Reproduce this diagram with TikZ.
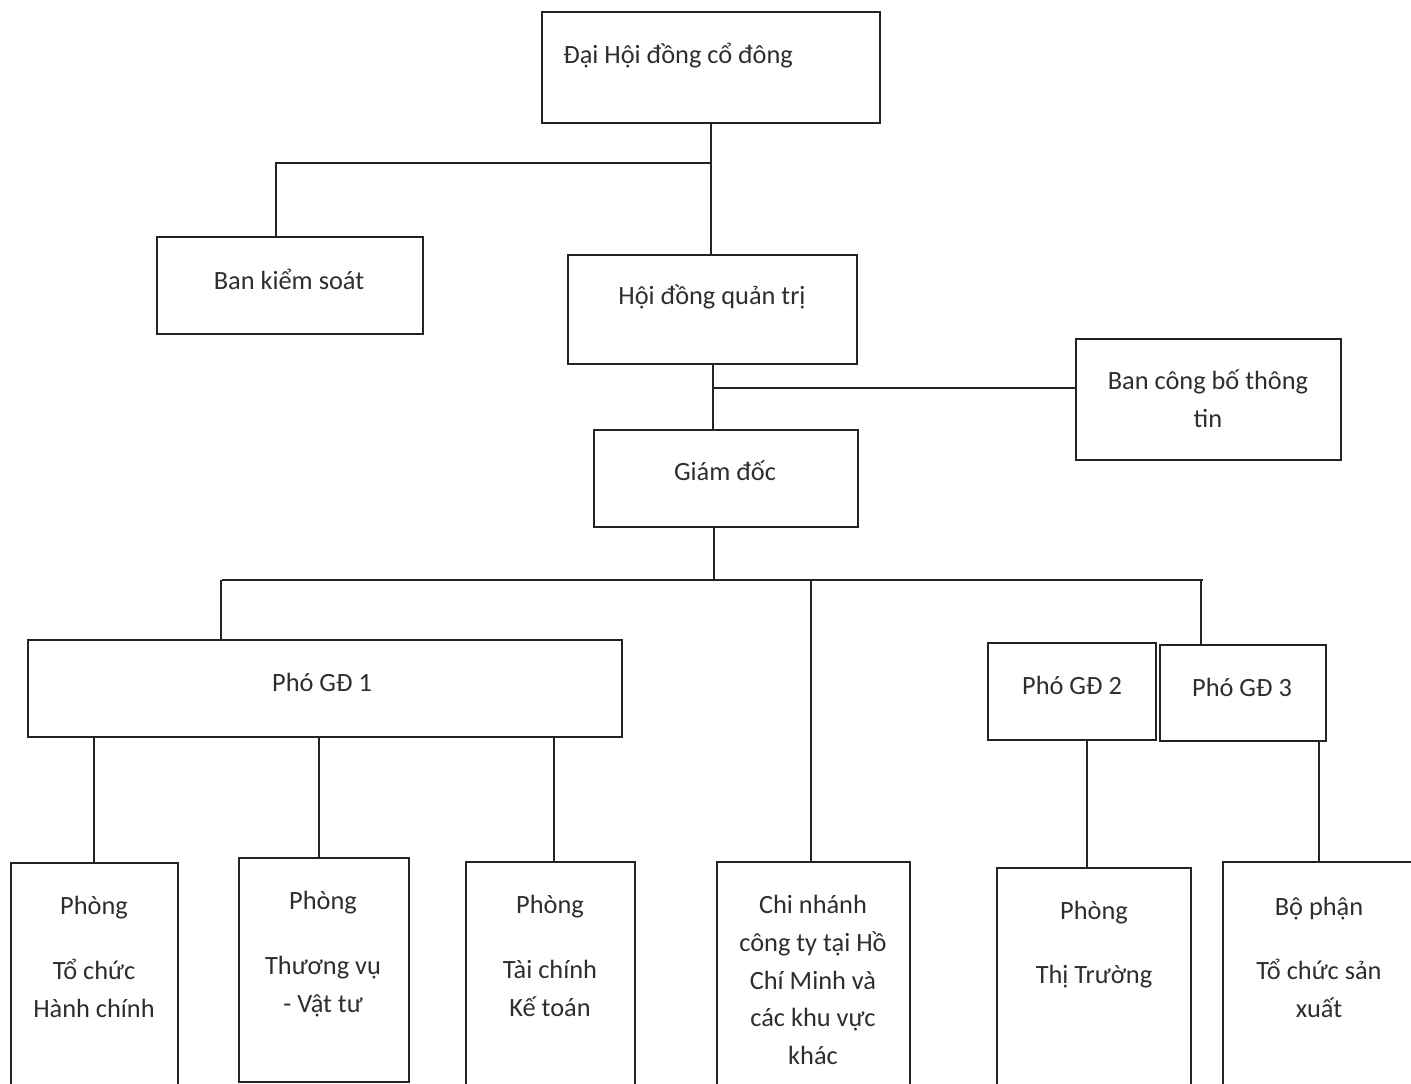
\documentclass[tikz,border=0pt]{standalone}
\usepackage{fontspec}
\setmainfont{Carlito}
\usetikzlibrary{fit}
\definecolor{ink}{HTML}{232323}
\definecolor{txt}{HTML}{2E2E2E}
\begin{document}
\begin{tikzpicture}[x=0.02cm,y=-0.02cm,
  box/.style={draw=ink,line width=1.1pt,inner sep=0pt},
  lbl/.style={text=txt,font=\fontsize{15}{21.5}\selectfont,align=center,inner sep=0pt},
  conn/.style={draw=ink,line width=1.1pt}]
\clip (0,0) rectangle (1411,1084);
\fill[white] (0,0) rectangle (1411,1084);

% boxes
\node[box,fit={(542,12)(880,123)}] (dh) {};
\node[box,fit={(157,237)(423,334)}] (bks) {};
\node[box,fit={(568,255)(857,364)}] (hd) {};
\node[box,fit={(1076,339)(1341,460)}] (cb) {};
\node[box,fit={(594,430)(858,527)}] (gd) {};
\node[box,fit={(28,640)(622,737)}] (p1) {};
\node[box,fit={(988,643)(1156,740)}] (p2) {};
\node[box,fit={(1160,645)(1326,741)}] (p3) {};
\node[box,fit={(11,863)(178,1110)}] (tc) {};
\node[box,fit={(239,858)(409,1082)}] (tv) {};
\node[box,fit={(466,862)(635,1110)}] (kt) {};
\node[box,fit={(717,862)(910,1110)}] (cn) {};
\node[box,fit={(997,868)(1191,1110)}] (tt) {};
\node[box,fit={(1223,862)(1430,1110)}] (sx) {};

% labels
\node[lbl,anchor=west] (dht) at (563,56) {Đại Hội đồng cổ đông};
\node[lbl] (bkst) at (289,279) {Ban kiểm soát};
\node[lbl] (hdt) at (712,297) {Hội đồng quản trị};
\node[lbl] (cbt) at (1208,399) {Ban công bố thông\\tin};
\node[lbl] (gdt) at (725,471) {Giám đốc};
\node[lbl] (p1t) at (322,682) {Phó GĐ 1};
\node[lbl] (p2t) at (1072,685) {Phó GĐ 2};
\node[lbl] (p3t) at (1242,687) {Phó GĐ 3};
\node[lbl] (tct) at (94,957) {Phòng\\[15.4pt]Tổ chức\\Hành chính};
\node[lbl] (tvt) at (323,954) {Phòng\\[15.4pt]Thương vụ\\- Vật tư};
\node[lbl] (ktt) at (550,956) {Phòng\\[15.4pt]Tài chính\\Kế toán};
\node[lbl] (cnt) at (813,980) {Chi nhánh\\công ty tại Hồ\\Chí Minh và\\các khu vực\\khác};
\node[lbl] (ttt) at (1094,945) {Phòng\\[15pt]Thị Trường};
\node[lbl] (sxt) at (1319,957) {Bộ phận\\[15pt]Tổ chức sản\\xuất};

% junction coordinates
\coordinate (j1) at (711,163);
\coordinate (bkx) at (276,0);
\coordinate (j2) at (713,388);
\coordinate (gdx) at (714,0);
\coordinate (busL) at (222,580);
\coordinate (busR) at (1203,580);
\coordinate (busM) at (714,580);
\coordinate (d1) at (221,0);
\coordinate (d2) at (811,0);
\coordinate (d3) at (1201,0);
\coordinate (c1) at (94,0);
\coordinate (c2) at (319,0);
\coordinate (c3) at (554,0);
\coordinate (c4) at (1087,0);
\coordinate (c5) at (1319,0);

% connectors
\draw[conn] (dh.south) -- (dh.south |- hd.north);
\draw[conn] (j1) -| (bks.north -| bkx);
\draw[conn] (hd.south -| j2) -- (gd.north -| j2);
\draw[conn] (j2) -- (j2 -| cb.west);
\draw[conn] (gd.south -| gdx) -- (busM);
\draw[conn] (busL) -- (busR);
\draw[conn] (busL -| d1) -- (p1.north -| d1);
\draw[conn] (busL -| d2) -- (cn.north -| d2);
\draw[conn] (busL -| d3) -- (p3.north -| d3);
\draw[conn] (p1.south -| c1) -- (tc.north -| c1);
\draw[conn] (p1.south -| c2) -- (tv.north -| c2);
\draw[conn] (p1.south -| c3) -- (kt.north -| c3);
\draw[conn] (p2.south -| c4) -- (tt.north -| c4);
\draw[conn] (p3.south -| c5) -- (sx.north -| c5);
\end{tikzpicture}
\end{document}
